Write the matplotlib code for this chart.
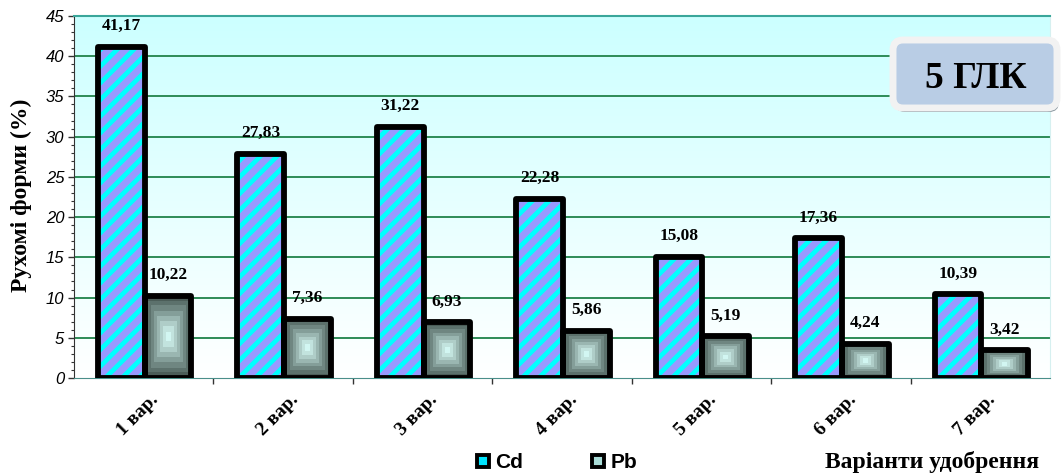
import numpy as np
import matplotlib
matplotlib.use("Agg")
import matplotlib.pyplot as plt
from matplotlib.colors import ListedColormap, LinearSegmentedColormap
from matplotlib.lines import Line2D
from matplotlib.patches import FancyBboxPatch
from matplotlib.ticker import MultipleLocator, FixedLocator
import matplotlib.transforms as mtransforms

# data
variants = ["1 вар.", "2 вар.", "3 вар.", "4 вар.", "5 вар.", "6 вар.", "7 вар."]
cd = [41.17, 27.83, 31.22, 22.28, 15.08, 17.36, 10.39]
pb = [10.22, 7.36, 6.93, 5.86, 5.19, 4.24, 3.42]
series_names = ["Cd", "Pb"]

SERIF = "Liberation Serif"
SANS = "Liberation Sans"

W, H = 1061, 476
fig = plt.figure(figsize=(W / 100, H / 100), dpi=100)
ax = fig.add_axes([74 / W, 1 - 378 / H, (1050 - 74) / W, (378 - 16) / H])

n = len(variants)
x = np.arange(n)
bw = 0.335
x_cd = x - 0.16
x_pb = x + 0.175

# light cyan -> white background
bg = LinearSegmentedColormap.from_list("bg", ["#ffffff", "#ccffff"])
ax.imshow(np.linspace(0, 1, 256).reshape(-1, 1), cmap=bg, origin="lower",
          extent=[-0.5, n - 0.5, 0, 45], aspect="auto", zorder=0)

# grid
for g in range(5, 45, 5):
    ax.axhline(g, color="#2e8b57", lw=1.4, zorder=1)

# Cd bars: purple with cyan stripes
plt.rcParams["hatch.linewidth"] = 3.4
ax.bar(x_cd, cd, bw, color="#9999ff", edgecolor="#00ffff", hatch="//", lw=0, zorder=2)
ax.bar(x_cd, cd, bw, fill=False, edgecolor="black", lw=4.2, joinstyle="round", zorder=4)

# Pb bars: concentric shaded rectangles
shade = ListedColormap(["#4b5d58", "#5c716c", "#6f8681", "#849e99", "#9ab6b1",
                        "#afcdc8", "#c2e3de", "#d2f6f2"])
u = np.linspace(-1, 1, 120)
uu, vv = np.meshgrid(u, u)
levels = np.floor((1 - np.maximum(abs(uu), abs(vv))) * 8).clip(0, 7)
for xi, v in zip(x_pb, pb):
    ax.imshow(levels, cmap=shade, vmin=-0.5, vmax=7.5, interpolation="nearest",
              extent=[xi - bw / 2, xi + bw / 2, 0, v], aspect="auto", zorder=3)
ax.bar(x_pb, pb, bw, fill=False, edgecolor="black", lw=4.2, joinstyle="round", zorder=4)

# value labels
for xs, vals in ((x_cd, cd), (x_pb, pb)):
    for xi, v in zip(xs, vals):
        ax.annotate(f"{v:.2f}".replace(".", ","), (xi, v), xytext=(0, 15),
                    textcoords="offset points", ha="center", va="center",
                    fontsize=12.5, fontweight="bold", family=SERIF, zorder=5)

ax.set_xlim(-0.5, n - 0.5)
ax.set_ylim(0, 45)

# y axis
ax.yaxis.set_major_locator(MultipleLocator(5))
ax.yaxis.set_minor_locator(MultipleLocator(1))
ax.tick_params(axis="y", which="major", length=4, width=1, color="#333333", pad=3)
ax.tick_params(axis="y", which="minor", length=2.5, width=0.8, color="#333333")
for lab in ax.get_yticklabels():
    lab.set_fontfamily(SANS)
    lab.set_fontstyle("italic")
    lab.set_fontsize(12)

# x axis
ax.set_xticks(x)
ax.xaxis.set_minor_locator(FixedLocator(np.arange(0.5, n - 1, 1.0)))
ax.tick_params(axis="x", which="major", length=0, pad=14)
ax.tick_params(axis="x", which="minor", length=4, width=1, color="#333333")
ax.set_xticklabels(variants, rotation=45, ha="right", va="center",
                   rotation_mode="anchor", fontsize=14, fontweight="bold", family=SERIF)
shift = mtransforms.ScaledTranslation(9 / 72, 0, fig.dpi_scale_trans)
for lab in ax.get_xticklabels():
    lab.set_transform(lab.get_transform() + shift)

ax.spines["left"].set_color("#333333")
ax.spines["bottom"].set_color("#4a8f8a")
ax.spines["top"].set_color("#3aa69a")
ax.spines["top"].set_linewidth(1.5)
ax.spines["right"].set_color("#d6f0f0")

fig.text(21 / W, 1 - 195 / H, "Рухомі форми (%)", rotation=90, ha="center", va="center",
         fontsize=17, fontweight="bold", family=SERIF)
fig.text(932 / W, 1 - 462 / H, "Варіанти удобрення", ha="center", va="center",
         fontsize=17, fontweight="bold", family=SERIF)

# legend
handles = [
    Line2D([], [], ls="none", marker="s", markersize=9, mew=2.8, mec="black", mfc="#00e5ff"),
    Line2D([], [], ls="none", marker="s", markersize=9, mew=2.8, mec="black", mfc="#a9dcd7"),
]
fig.legend(handles, series_names, loc="center", bbox_to_anchor=(556 / W, 1 - 463 / H),
           ncol=2, frameon=False, handlelength=0.8, handletextpad=0.2, columnspacing=3.2,
           prop={"family": SANS, "weight": "bold", "size": 15})

# title badge
px = mtransforms.IdentityTransform()
shadow = FancyBboxPatch((895, H - 112), 164, 68, boxstyle="round,pad=0,rounding_size=10",
                        transform=px, facecolor="#8a979f", edgecolor="none", zorder=6)
badge = FancyBboxPatch((893, H - 108), 164, 68, boxstyle="round,pad=0,rounding_size=10",
                       transform=px, facecolor="#b9cde5", edgecolor="#f2f2f2", lw=5, zorder=7)
fig.add_artist(shadow)
fig.add_artist(badge)
fig.text(976 / W, 1 - 79 / H, "5 ГЛК", ha="center", va="center", fontsize=27,
         fontweight="bold", family=SERIF, zorder=8)

fig.savefig("out.png", dpi=100)
